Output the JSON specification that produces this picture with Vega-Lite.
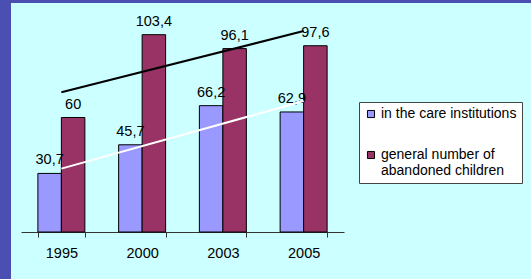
{
  "$schema": "https://vega.github.io/schema/vega-lite/v6.json",
  "width": 520,
  "height": 276,
  "autosize": {"type": "none"},
  "padding": {"left": 11, "top": 3, "right": 0, "bottom": 0},
  "background": "#4B4FB2",
  "config": {"view": {"fill": "#CCFFFF", "stroke": null}, "font": "Liberation Sans"},
  "datasets": {
    "bars": [
      {"year": "1995", "series": "in the care institutions", "value": 30.7, "label": "30,7"},
      {"year": "1995", "series": "general number of abandoned children", "value": 60, "label": "60"},
      {"year": "2000", "series": "in the care institutions", "value": 45.7, "label": "45,7"},
      {"year": "2000", "series": "general number of abandoned children", "value": 103.4, "label": "103,4"},
      {"year": "2003", "series": "in the care institutions", "value": 66.2, "label": "66,2"},
      {"year": "2003", "series": "general number of abandoned children", "value": 96.1, "label": "96,1"},
      {"year": "2005", "series": "in the care institutions", "value": 62.9, "label": "62,9"},
      {"year": "2005", "series": "general number of abandoned children", "value": 97.6, "label": "97,6"}
    ],
    "trend": [
      {"year": "1995", "line": "general", "value": 73.2},
      {"year": "2005", "line": "general", "value": 105.3},
      {"year": "1995", "line": "care", "value": 33.2},
      {"year": "2005", "line": "care", "value": 68.6}
    ]
  },
  "layer": [
    {
      "data": {"name": "bars"},
      "mark": {"type": "bar", "stroke": "#000", "strokeWidth": 1},
      "encoding": {
        "x": {
          "field": "year", "type": "nominal",
          "scale": {"range": [10, 333], "paddingInner": 0.418, "paddingOuter": 0.209},
          "axis": {
            "title": null, "labelAngle": 0, "domainColor": "#333", "tickColor": "#333",
            "tickSize": 5, "tickBand": "extent", "labelFontSize": 14.5, "labelColor": "#000",
            "labelPadding": 9, "offset": -47, "domainWidth": 1, "tickWidth": 1
          }
        },
        "xOffset": {
          "field": "series", "type": "nominal",
          "sort": ["in the care institutions", "general number of abandoned children"],
          "scale": {"paddingInner": 0, "paddingOuter": 0}
        },
        "y": {
          "field": "value", "type": "quantitative",
          "scale": {"domain": [0, 120], "range": [229, 0]},
          "axis": null
        },
        "color": {
          "field": "series", "type": "nominal",
          "scale": {
            "domain": ["in the care institutions", "general number of abandoned children"],
            "range": ["#9999FF", "#993366"]
          },
          "legend": {
            "title": null, "orient": "none", "legendX": 348, "legendY": 99,
            "direction": "vertical", "fillColor": "#FFFFFF", "strokeColor": "#444",
            "padding": 5, "symbolType": "square", "symbolSize": 50,
            "symbolStrokeColor": "#000", "symbolStrokeWidth": 1,
            "labelFontSize": 14, "labelColor": "#000", "labelOffset": 3,
            "rowPadding": 27, "labelLimit": 220,
            "labelExpr": "datum.label == 'general number of abandoned children' ? ['general number of', 'abandoned children'] : datum.label"
          }
        }
      }
    },
    {
      "data": {"name": "bars"},
      "mark": {"type": "text", "dy": -9, "baseline": "alphabetic", "fontSize": 14.5, "color": "#000"},
      "encoding": {
        "x": {"field": "year", "type": "nominal"},
        "xOffset": {
          "field": "series", "type": "nominal",
          "sort": ["in the care institutions", "general number of abandoned children"]
        },
        "y": {"field": "value", "type": "quantitative"},
        "text": {"field": "label"}
      }
    },
    {
      "data": {"name": "trend"},
      "mark": {"type": "line", "strokeWidth": 2},
      "encoding": {
        "x": {"field": "year", "type": "nominal"},
        "y": {"field": "value", "type": "quantitative"},
        "detail": {"field": "line"},
        "stroke": {
          "field": "line", "type": "nominal",
          "scale": {"domain": ["general", "care"], "range": ["#000000", "#FFFFFF"]},
          "legend": null
        }
      }
    }
  ]
}
